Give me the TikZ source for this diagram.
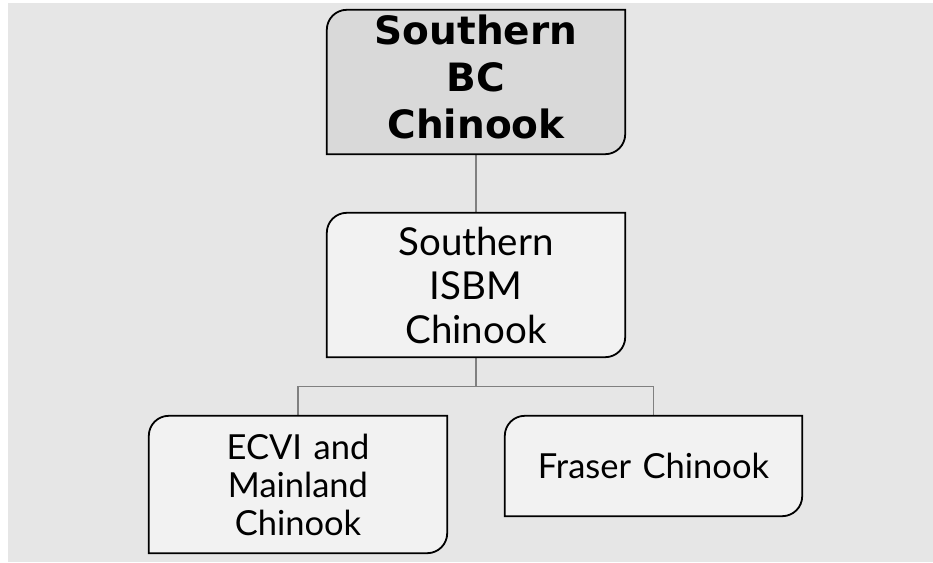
\documentclass[tikz,border=0pt]{standalone}
\usepackage{fontspec}
\setmainfont{Lato}
\newfontfamily\topfont{DejaVu Sans}
\definecolor{pagebg}{HTML}{E6E6E6}
\definecolor{topfill}{HTML}{D9D9D9}
\definecolor{boxfill}{HTML}{F2F2F2}
\definecolor{conngray}{HTML}{808080}
\pgfdeclarelayer{bg}
\pgfdeclarelayer{boxes}
\pgfsetlayers{bg,boxes,main}
\tikzset{
  boxnode/.style={minimum width=298pt, text width=290pt, align=center, inner sep=0pt,
    font=\fontsize{34.5}{38}\selectfont},
  midnode/.style={boxnode, font=\fontsize{38.5}{44}\selectfont},
  topnode/.style={boxnode, font=\topfont\fontsize{39}{47}\selectfont\bfseries},
  boxline/.style={draw=black, line width=1.8pt},
  conn/.style={draw=conngray, line width=1.6pt},
}
\newcommand\diagoutline[2]{%
  \begin{pgfonlayer}{boxes}
    \draw[boxline, fill=#2] (#1.south west) -- ([yshift=-20pt]#1.north west)
      arc[start angle=180, end angle=90, radius=20pt] -- (#1.north east)
      -- ([yshift=20pt]#1.south east)
      arc[start angle=0, end angle=-90, radius=20pt] -- cycle;
  \end{pgfonlayer}}
\begin{document}
\begin{tikzpicture}
  \useasboundingbox (0,0) rectangle (933pt,562pt);
  \begin{pgfonlayer}{bg}
    \fill[pagebg] (8pt,0pt) rectangle (933pt,559pt);
  \end{pgfonlayer}
  \node[topnode, minimum height=144pt] (top) at (476pt,480pt) {Southern\\BC\\Chinook\rule[-11pt]{0pt}{11pt}};
  \node[midnode, minimum height=144pt] (mid) at (476pt,277pt) {Southern\\ISBM\\Chinook};
  \node[boxnode, minimum height=137pt] (left) at (298pt,77.5pt) {ECVI and\\Mainland\\Chinook};
  \node[boxnode, minimum width=297pt, minimum height=100pt] (right) at (653.5pt,96pt) {Fraser Chinook};
  \diagoutline{top}{topfill}
  \diagoutline{mid}{boxfill}
  \diagoutline{left}{boxfill}
  \diagoutline{right}{boxfill}
  \coordinate (j) at (476pt,175.5pt);
  \begin{pgfonlayer}{bg}
    \draw[conn] (top.south) -- (mid.north);
    \draw[conn] (mid.south) -- (j);
    \draw[conn] (left.north) |- (j) -| (right.north);
  \end{pgfonlayer}
\end{tikzpicture}
\end{document}
